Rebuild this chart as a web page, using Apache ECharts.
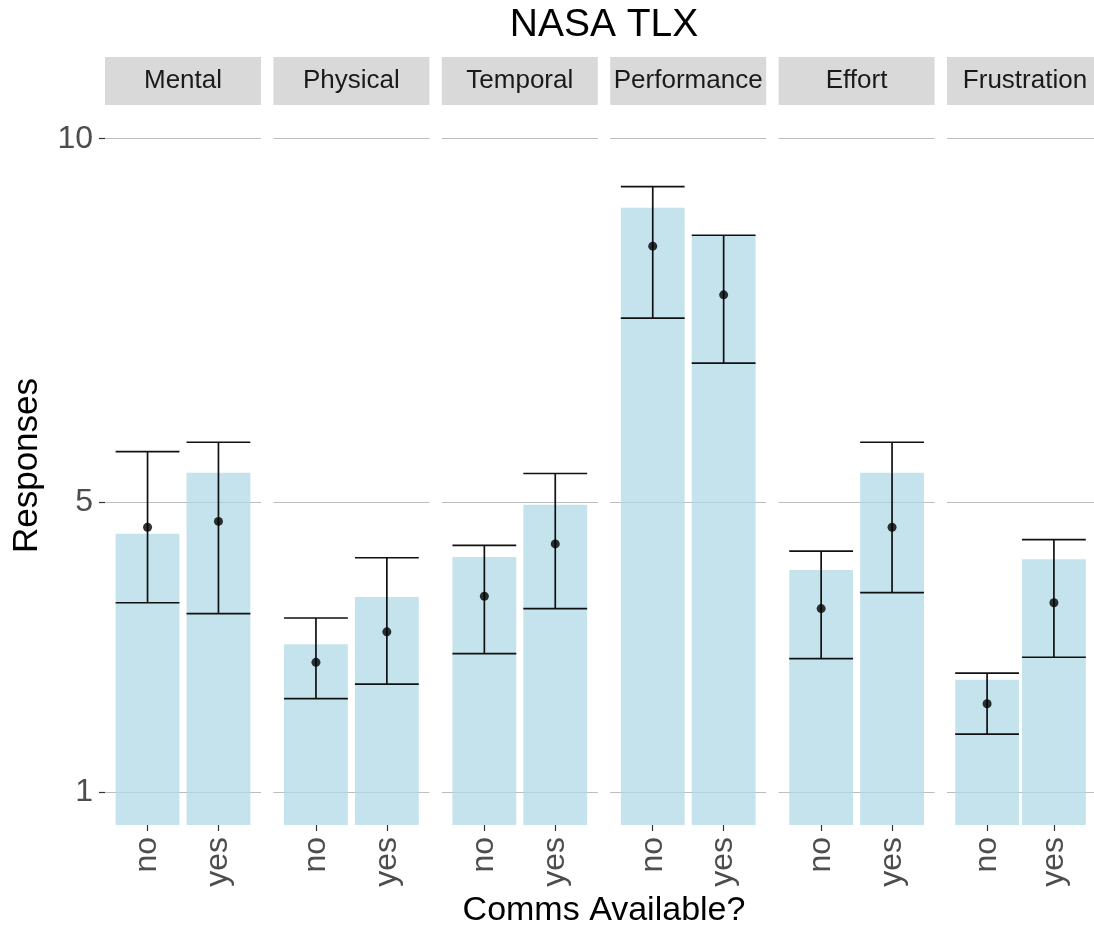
<!DOCTYPE html>
<html>
<head>
<meta charset="utf-8">
<title>NASA TLX</title>
<script src="https://cdn.jsdelivr.net/npm/echarts@6/dist/echarts.min.js"></script>
<style>
  html, body { margin: 0; padding: 0; background: #fff; }
  #main { width: 1094px; height: 930px; }
</style>
</head>
<body>
<div id="main"></div>
<script>
// data
const facets = ['Mental', 'Physical', 'Temporal', 'Performance', 'Effort', 'Frustration']
const conditions = ['no', 'yes']
const barNo = [4.56, 3.04, 4.24, 9.05, 4.06, 2.55]
const barYes = [5.40, 3.69, 4.96, 8.67, 5.40, 4.21]
const meanNo = [4.65, 2.79, 3.70, 8.52, 3.53, 2.22]
const meanYes = [4.73, 3.21, 4.42, 7.85, 4.65, 3.61]
const lowNo = [3.61, 2.29, 2.91, 7.53, 2.84, 1.80]
const lowYes = [3.46, 2.49, 3.53, 6.91, 3.75, 2.86]
const highNo = [5.69, 3.40, 4.40, 9.34, 4.32, 2.64]
const highYes = [5.82, 4.23, 5.39, 8.67, 5.82, 4.48]
const yTicks = [1, 5, 10]

// layout
const FONT = '"Liberation Sans", Arial, sans-serif'
const PANEL_LEFT = 105
const PANEL_STEP = 168.4
const PANEL_W = 156
const PANEL_TOP = 106
const PANEL_H = 719
const BAR_W = 0.9 * PANEL_W / 2.2
const centerX = PANEL_LEFT + (PANEL_STEP * 5 + PANEL_W) / 2

const chart = echarts.init(document.getElementById('main'))

function renderErrorBar(params, api) {
  const x = api.value(0)
  const lo = api.coord([x, api.value(1)])
  const hi = api.coord([x, api.value(2)])
  const half = BAR_W / 2
  const style = { stroke: '#111', lineWidth: 1.7 }
  return {
    type: 'group',
    children: [
      { type: 'line', shape: { x1: lo[0], y1: lo[1], x2: hi[0], y2: hi[1] }, style },
      { type: 'line', shape: { x1: lo[0] - half, y1: lo[1], x2: lo[0] + half, y2: lo[1] }, style },
      { type: 'line', shape: { x1: hi[0] - half, y1: hi[1], x2: hi[0] + half, y2: hi[1] }, style }
    ]
  }
}

const grid = []
const xAxis = []
const yAxis = []
const series = []
const graphic = []

facets.forEach((name, i) => {
  const left = PANEL_LEFT + i * PANEL_STEP
  grid.push({ left, top: PANEL_TOP, width: PANEL_W, height: PANEL_H })
  xAxis.push({
    gridIndex: i,
    type: 'value',
    min: 0.4,
    max: 2.6,
    axisLine: { show: false },
    splitLine: { show: false },
    axisTick: { show: true, customValues: [1, 2], length: 6, lineStyle: { color: '#333', width: 1.2 } },
    axisLabel: {
      customValues: [1, 2],
      formatter: (v) => conditions[Math.round(v) - 1],
      rotate: 90,
      margin: 12,
      fontFamily: FONT,
      fontSize: 32,
      color: '#4d4d4d'
    }
  })
  yAxis.push({
    gridIndex: i,
    type: 'value',
    min: 0.55,
    max: 10.45,
    axisLine: { show: false },
    splitLine: { show: false },
    axisTick: { show: i === 0, customValues: yTicks, length: 6, lineStyle: { color: '#333', width: 1.2 } },
    axisLabel: {
      show: i === 0,
      customValues: yTicks,
      margin: 12,
      fontFamily: FONT,
      fontSize: 32,
      color: '#4d4d4d'
    }
  })

  const xs = conditions.map((c, k) => k + 1)
  series.push({
    type: 'bar',
    xAxisIndex: i,
    yAxisIndex: i,
    barWidth: BAR_W,
    clip: true,
    itemStyle: { color: 'rgba(173,216,230,0.72)' },
    data: [[xs[0], barNo[i]], [xs[1], barYes[i]]],
    markLine: {
      silent: true,
      symbol: 'none',
      z: 1,
      label: { show: false },
      lineStyle: { color: '#bdbdbd', width: 1.2, type: 'solid' },
      data: yTicks.map((t) => ({ yAxis: t }))
    }
  })
  series.push({
    type: 'custom',
    xAxisIndex: i,
    yAxisIndex: i,
    renderItem: renderErrorBar,
    encode: { x: 0, y: [1, 2] },
    z: 3,
    data: [[xs[0], lowNo[i], highNo[i]], [xs[1], lowYes[i], highYes[i]]]
  })
  series.push({
    type: 'scatter',
    xAxisIndex: i,
    yAxisIndex: i,
    symbolSize: 9,
    z: 4,
    itemStyle: { color: '#000' },
    data: [[xs[0], meanNo[i]], [xs[1], meanYes[i]]]
  })

  // facet strip
  graphic.push({
    type: 'rect',
    shape: { x: left, y: 57, width: PANEL_W, height: 48 },
    style: { fill: '#d9d9d9' },
    silent: true
  })
  graphic.push({
    type: 'text',
    x: left + PANEL_W / 2,
    y: 81,
    style: {
      text: name,
      fontFamily: FONT,
      fontSize: 26,
      fill: '#1a1a1a',
      align: 'center',
      verticalAlign: 'middle'
    },
    silent: true
  })
})

// axis titles and main title
graphic.push({
  type: 'text',
  x: centerX,
  y: 25,
  style: { text: 'NASA TLX', fontFamily: FONT, fontSize: 39, fill: '#000', align: 'center', verticalAlign: 'middle' }
})
graphic.push({
  type: 'text',
  x: centerX,
  y: 911,
  style: { text: 'Comms Available?', fontFamily: FONT, fontSize: 34, fill: '#000', align: 'center', verticalAlign: 'middle' }
})
graphic.push({
  type: 'text',
  x: 27,
  y: PANEL_TOP + PANEL_H / 2,
  rotation: Math.PI / 2,
  style: { text: 'Responses', fontFamily: FONT, fontSize: 35, fill: '#000', align: 'center', verticalAlign: 'middle' }
})

chart.setOption({
  backgroundColor: '#fff',
  animation: false,
  grid,
  xAxis,
  yAxis,
  series,
  graphic
})

window.addEventListener('resize', () => chart.resize())
</script>
</body>
</html>
